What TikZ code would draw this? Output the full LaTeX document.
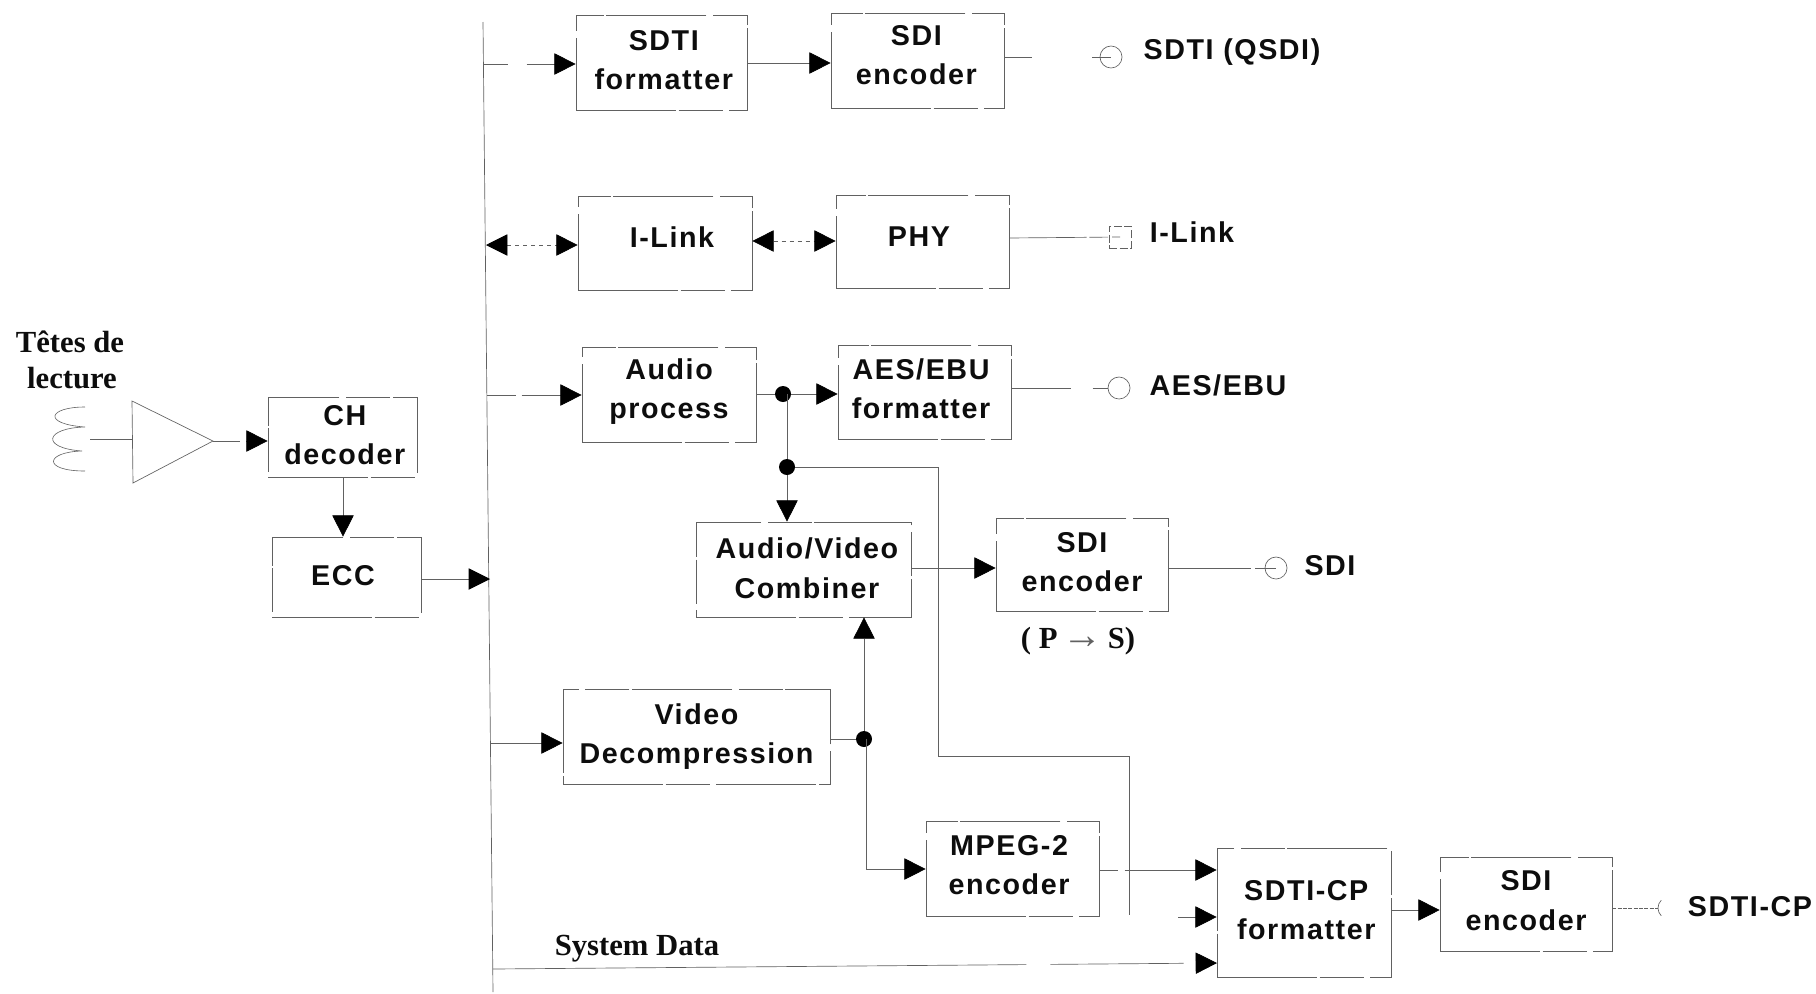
\documentclass[tikz,border=0pt]{standalone}
\usepackage{fontspec}
\setmainfont{Liberation Sans}
\newfontfamily\serifb{Liberation Serif}
\newfontfamily\lab[LetterSpace=5.5]{Liberation Sans}
\usetikzlibrary{arrows.meta}
\definecolor{ink}{gray}{0.05}
\definecolor{wire}{gray}{0.38}
\tikzset{
  bxs/.style={draw=wire,line width=0.5pt,inner sep=0pt,
    dash pattern=on 75pt off 2pt on 33pt off 5pt},
  txt/.style={inner sep=0pt,align=center,text=ink,
    font=\lab\bfseries\fontsize{21.5pt}{29.6pt}\selectfont},
  cn/.style={draw=wire,line width=0.5pt},
  arr/.style={cn,-{Triangle[length=16pt,width=16pt,color=black]}},
  darr/.style={cn,{Triangle[length=16pt,width=16pt,color=black]}-{Triangle[length=16pt,width=16pt,color=black]}},
  lbl/.style={inner sep=0pt,text=ink,font=\lab\bfseries\fontsize{21.5pt}{30pt}\selectfont},
  sfl/.style={inner sep=0pt,text=ink,font=\serifb\bfseries\fontsize{23pt}{28pt}\selectfont},
  dot/.style={circle,fill=black,inner sep=0pt,minimum size=12pt},
  port/.style={circle,draw=wire,line width=0.5pt,inner sep=0pt,minimum size=16.5pt},
}
% name, cx, cy, w, h, text; optional: shift of the text in pt
\newcommand{\bx}[7][]{\node[bxs,minimum width=0.75*#5pt,minimum height=0.75*#6pt] (#2) at (#3,#4) {};
  \node[txt,#1] (#2t) at (#2.center) {#7};}
\begin{document}
\begin{tikzpicture}[x=0.75pt,y=-0.75pt]
\useasboundingbox[fill=white] (0,0) rectangle (1816,993);
% boxes
\bx[xshift=1.7pt,yshift=1.7pt]{sf}{661.5}{62.5}{171}{95}{SDTI\\formatter}
\bx[xshift=-0.9pt,yshift=3.9pt]{se}{917.5}{60.5}{173}{95}{SDI\\encoder}
\bx[xshift=5.2pt,yshift=4.3pt]{il}{665}{243}{174}{94}{I-Link}
\bx[xshift=-2.6pt,yshift=3.5pt]{ph}{922.5}{241.5}{173}{93}{PHY}
\bx[yshift=2.2pt]{ap}{669}{394.5}{174}{95}{Audio\\process}
\bx[xshift=-2.6pt,yshift=2.6pt]{ae}{924.5}{392}{173}{94}{AES/EBU\\formatter}
\bx[xshift=1.7pt,yshift=1.3pt]{ch}{342.5}{437}{149}{80}{CH\\decoder}
\bx[xshift=-2.6pt,yshift=0.9pt]{ec}{346.5}{577}{149}{80}{ECC}
\bx[xshift=2.6pt,yshift=0.9pt]{av}{803.5}{569.5}{215}{95}{Audio/Video\\Combiner}
\bx[yshift=1.7pt]{sm}{1082}{564.5}{172}{93}{SDI\\encoder}
\bx{vd}{696.5}{736.5}{267}{95}{Video\\Decompression}
\bx[xshift=-2.6pt,yshift=2.6pt]{mp}{1012.5}{868.5}{173}{95}{MPEG-2\\encoder}
\bx[xshift=1.7pt,yshift=1.7pt]{cp}{1304}{912.5}{174}{129}{SDTI-CP\\formatter}
\bx[yshift=2.6pt]{sb}{1526}{904}{172}{94}{SDI\\encoder}
% labels
\node[sfl] (t1) at (70,342) {Têtes de};
\node[sfl] (t2) at (72,378) {lecture};
\node[sfl] (sys) at (637,949) {System Data};
\node[sfl] (ps) at (1078,641) {( P\,{\mdseries\color{wire}\fontsize{30pt}{30pt}\selectfont→}\,S)};
\node[lbl] (l1) at (1232,52) {SDTI (QSDI)};
\node[lbl] (l2) at (1192,232) {I-Link};
\node[lbl] (l3) at (1218,385) {AES/EBU};
\node[lbl] (l4) at (1330,566) {SDI};
\node[lbl] (l5) at (1750,907) {SDTI-CP};
% ports
\node[port] (p1) at (1111,57) {};
\node[draw=wire,line width=0.5pt,inner sep=0pt,minimum size=16.5pt,dash pattern=on 6pt off 2pt] (p2) at (1120,237) {};
\node[port] (p3) at (1119,388) {};
\node[port] (p4) at (1276,568) {};
\coordinate (p5) at (1669,908);
\draw[cn] ([shift={(135:11)}]p5) arc[start angle=135,end angle=225,radius=11];
% bus
\coordinate (bt) at (483,22);
\coordinate (bb) at (493,992);
\draw[cn] (bt) -- (bb);
\coordinate (b1) at (484,64);
\coordinate (b2) at (486,245);
\coordinate (b3) at (487,395);
\coordinate (b4) at (490,579);
\coordinate (b5) at (491,743);
\coordinate (b6) at (493,969);
% bus to blocks
\draw[arr,dash pattern=on 18pt off 14pt on 100pt] (b1) -- (sf.west |- b1);
\draw[darr,dash pattern=on 3pt off 3pt] (b2) -- (il.west |- b2);
\draw[arr,dash pattern=on 22pt off 4pt on 100pt] (b3) -- (ap.west |- b3);
\draw[arr] (ec.east |- b4) -- (b4);
\draw[arr] (b5) -- (vd.west |- b5);
\coordinate (c3) at (1217,963);
\draw[arr,dash pattern=on 400pt off 18pt on 100pt] (b6) -- (c3);
% front end
\coordinate (ati) at (132,439);
\coordinate (ato) at (213,441);
\draw[cn] (132,401) -- (ato) -- (133,483) -- cycle;
\coordinate (cl) at (90,439);
\draw[cn] (cl) -- (ati);
\draw[arr,dash pattern=on 20pt off 5pt] (ato) -- (ch.west |- ato);
\draw[cn,line width=0.45pt] (85,407) .. controls (48,407) and (42,424) .. (85,427)
  .. controls (45,428) and (40,448) .. (82,451)
  .. controls (45,452) and (42,471) .. (85,471);
\draw[arr] (ch.south -| 343,0) -- (ec.north -| 343,0);
% top row
\draw[arr] (sf.east |- 0,63) -- (se.west |- 0,63);
\draw[cn,dash pattern=on 21pt off 45pt on 14pt] (se.east |- p1) -- (p1.center);
% i-link row
\draw[darr,dash pattern=on 3pt off 3pt] (il.east |- 0,241) -- (ph.west |- 0,241);
\draw[cn,dash pattern=on 58pt off 2pt on 14pt off 3pt] (ph.east |- 0,238) -- (p2.center);
% audio row
\node[dot] (j1) at (783,394) {};
\node[dot] (j2) at (787,467) {};
\draw[cn] (ap.east |- j1) -- (j1);
\draw[arr] (j1) -- (ae.west |- j1);
\draw[cn,dash pattern=on 45pt off 16pt] (ae.east |- p3) -- (p3.west);
\draw[cn] (j2 |- j1) -- (j2);
\draw[arr] (j2) -- (j2 |- av.north);
% combiner
\draw[arr] (av.east |- 0,568) -- (sm.west |- 0,568);
\draw[cn,dash pattern=on 62pt off 3pt] (sm.east |- p4) -- (p4.center);
% video
\node[dot] (j3) at (864,739) {};
\draw[cn] (vd.east |- j3) -- (j3);
\draw[arr] (j3) -- (j3 |- av.south);
\coordinate (k1) at (866,869);
\draw[cn] (k1 |- j3) -- (k1);
\draw[arr] (k1) -- (mp.west |- k1);
% audio feed to cp
\coordinate (k2) at (938,467);
\coordinate (k3) at (938,756);
\coordinate (k4) at (1129,756);
\coordinate (k5) at (1129,915);
\coordinate (k6) at (1178,917);
\draw[cn] (j2) -- (k2) -- (k3) -- (k4) -- (k5);
\draw[arr] (k6) -- (cp.west |- k6);
% mpeg to cp
\draw[arr,dash pattern=on 14pt off 5pt on 100pt] (mp.east |- 0,870) -- (cp.west |- 0,870);
% cp to sdi
\draw[arr] (cp.east |- 0,910) -- (sb.west |- 0,910);
\coordinate (p5w) at (1658,908);
\draw[cn,dash pattern=on 3pt off 1pt] (sb.east |- p5) -- (p5w);
\end{tikzpicture}
\end{document}
